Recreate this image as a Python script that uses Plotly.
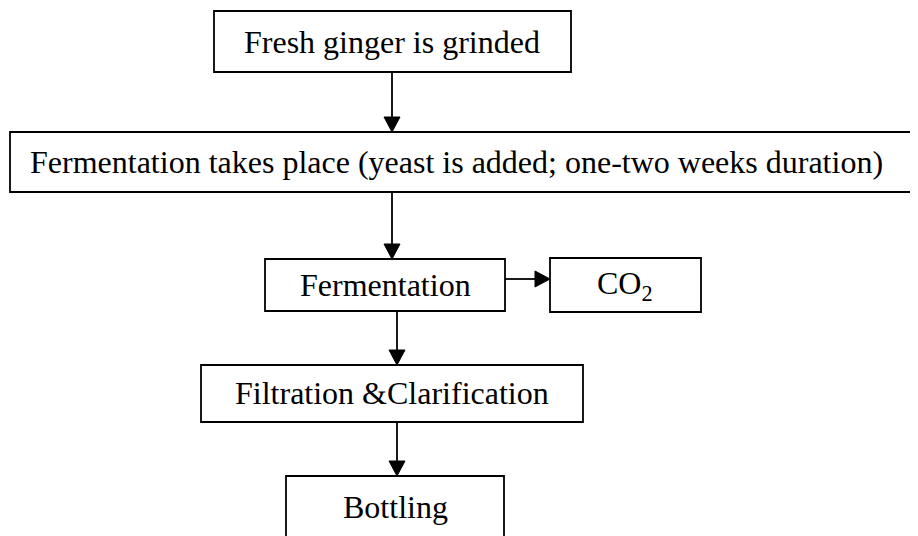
import plotly.graph_objects as go

# ---- flowchart content ----
step_ids = ["grind", "ferment_main", "ferment", "co2", "filter", "bottle"]
step_labels = [
    "Fresh ginger is grinded",
    "Fermentation takes place (yeast is added; one-two weeks duration)",
    "Fermentation",
    "CO<sub>2</sub>",
    "Filtration &amp;Clarification",
    "Bottling",
]
edges_from = ["grind", "ferment_main", "ferment", "ferment", "filter"]
edges_to = ["ferment_main", "ferment", "co2", "filter", "bottle"]

# ---- layout (pixel space, y downwards) ----
W, H = 918, 536
OFF = 8  # page body margin compensation
boxes = {
    "grind": (214, 571, 11, 72),
    "ferment_main": (10, 930, 132, 192),
    "ferment": (265, 505, 259, 311),
    "co2": (550, 701, 258, 312),
    "filter": (201, 583, 365, 422),
    "bottle": (286, 504, 476, 540),
}
text_pos = {
    "grind": (392, 42),
    "ferment_main": (456, 162),
    "ferment": (385, 285),
    "co2": (625, 285),
    "filter": (392, 393),
    "bottle": (395, 507),
}
# arrow routes: (x0, y0, x1, y1) with tip at (x1, y1)
arrow_routes = {
    ("grind", "ferment_main"): (392, 72, 392, 132),
    ("ferment_main", "ferment"): (392, 192, 392, 259),
    ("ferment", "co2"): (505, 279, 550, 279),
    ("ferment", "filter"): (397, 311, 397, 365),
    ("filter", "bottle"): (397, 422, 397, 476),
}
FONT = "Liberation Serif, Times New Roman, serif"
FS = 32
LW = 1.8
HEAD_L, HEAD_W = 15, 8

fig = go.Figure()
shapes = []
annotations = []

for sid, label in zip(step_ids, step_labels):
    x0, x1, y0, y1 = boxes[sid]
    shapes.append(dict(type="rect", x0=x0, x1=x1, y0=y0, y1=y1,
                       line=dict(color="black", width=LW), fillcolor="white", layer="above"))
    tx, ty = text_pos[sid]
    annotations.append(dict(x=tx, y=ty, text=label, showarrow=False,
                            font=dict(family=FONT, size=FS, color="black"),
                            xanchor="center", yanchor="middle"))

for a, b in zip(edges_from, edges_to):
    x0, y0, x1, y1 = arrow_routes[(a, b)]
    if x0 == x1:  # vertical, pointing down
        shapes.append(dict(type="line", x0=x0, y0=y0, x1=x1, y1=y1 - HEAD_L + 2,
                           line=dict(color="black", width=LW)))
        path = f"M {x1} {y1} L {x1 - HEAD_W} {y1 - HEAD_L} L {x1 + HEAD_W} {y1 - HEAD_L} Z"
    else:  # horizontal, pointing right
        shapes.append(dict(type="line", x0=x0, y0=y0, x1=x1 - HEAD_L + 2, y1=y1,
                           line=dict(color="black", width=LW)))
        path = f"M {x1} {y1} L {x1 - HEAD_L} {y1 - HEAD_W} L {x1 - HEAD_L} {y1 + HEAD_W} Z"
    shapes.append(dict(type="path", path=path, fillcolor="black",
                       line=dict(color="black", width=1)))

fig.update_layout(
    width=W - OFF, height=H - OFF, autosize=False,
    margin=dict(l=0, r=0, t=0, b=0),
    paper_bgcolor="white", plot_bgcolor="white",
    xaxis=dict(range=[OFF, W], visible=False, fixedrange=True),
    yaxis=dict(range=[H, OFF], visible=False, fixedrange=True),
    shapes=shapes, annotations=annotations, showlegend=False,
)
fig.write_html("out.html")
